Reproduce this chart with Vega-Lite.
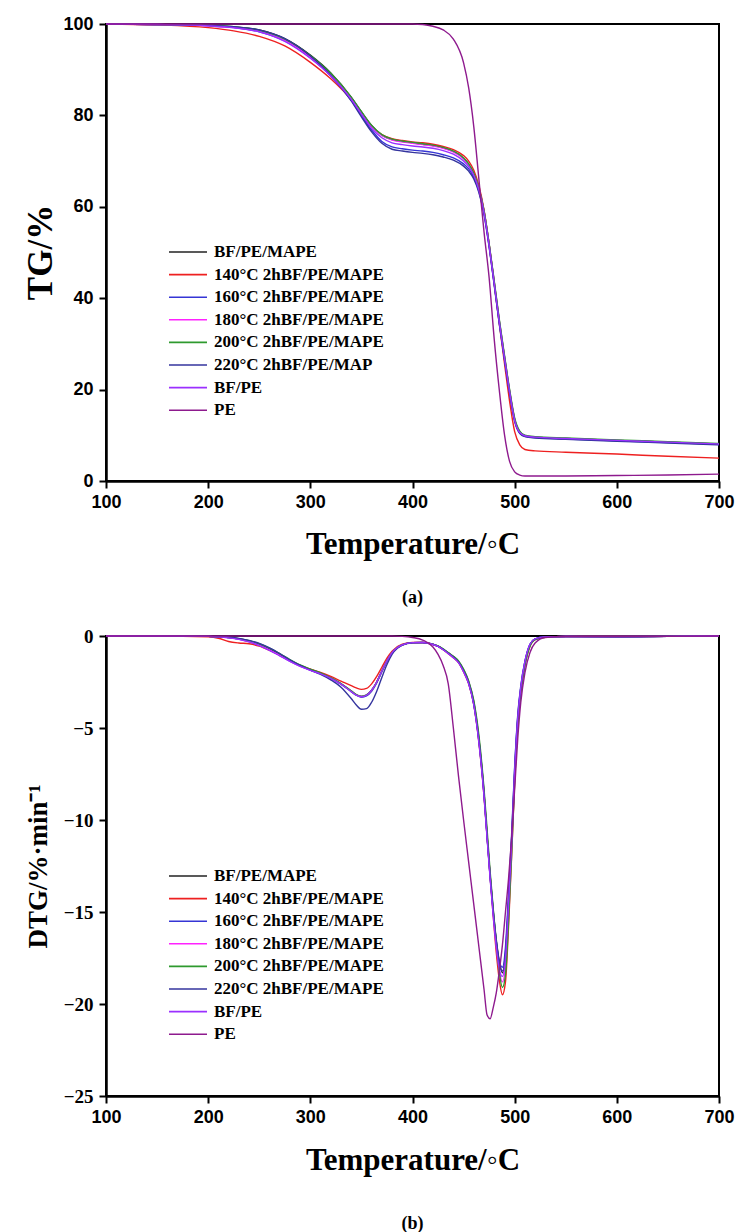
{
  "$schema": "https://vega.github.io/schema/vega-lite/v6.json",
  "background": "white",
  "padding": {"left": 22, "top": 14, "right": 5, "bottom": 0},
  "spacing": 18,
  "config": {
    "view": {"stroke": "black", "strokeWidth": 2},
    "axis": {"grid": false, "labelFlush": false, "domainColor": "black", "domainWidth": 2.5, "tickColor": "black", "tickWidth": 2, "tickSize": 7, "labelColor": "black", "titleColor": "black"},
    "legend": {"orient": "none", "symbolType": "stroke", "symbolSize": 1444, "symbolStrokeWidth": 1.6, "labelFont": "Liberation Serif", "labelFontSize": 17, "labelFontWeight": "bold", "labelColor": "black", "clipHeight": 20, "rowPadding": 2.6, "labelOffset": 6, "padding": 0, "labelLimit": 400, "title": null}
  },
  "datasets": {
    "tg": [
      {"T":100,"BF/PE/MAPE":100,"140°C 2hBF/PE/MAPE":100,"160°C 2hBF/PE/MAPE":100,"180°C 2hBF/PE/MAPE":100,"200°C 2hBF/PE/MAPE":100,"220°C 2hBF/PE/MAP":100,"BF/PE":100,"PE":100},
      {"T":150,"BF/PE/MAPE":99.9,"140°C 2hBF/PE/MAPE":99.8,"160°C 2hBF/PE/MAPE":99.9,"180°C 2hBF/PE/MAPE":99.9,"200°C 2hBF/PE/MAPE":99.9,"220°C 2hBF/PE/MAP":99.9,"BF/PE":99.9,"PE":100},
      {"T":200,"BF/PE/MAPE":99.7,"140°C 2hBF/PE/MAPE":99.2,"160°C 2hBF/PE/MAPE":99.6,"180°C 2hBF/PE/MAPE":99.6,"200°C 2hBF/PE/MAPE":99.7,"220°C 2hBF/PE/MAP":99.7,"BF/PE":99.6,"PE":100},
      {"T":225,"BF/PE/MAPE":99.4,"140°C 2hBF/PE/MAPE":98.5,"160°C 2hBF/PE/MAPE":99.2,"180°C 2hBF/PE/MAPE":99.2,"200°C 2hBF/PE/MAPE":99.4,"220°C 2hBF/PE/MAP":99.4,"BF/PE":99.2,"PE":100},
      {"T":250,"BF/PE/MAPE":98.7,"140°C 2hBF/PE/MAPE":97.3,"160°C 2hBF/PE/MAPE":98.3,"180°C 2hBF/PE/MAPE":98.4,"200°C 2hBF/PE/MAPE":98.6,"220°C 2hBF/PE/MAP":98.7,"BF/PE":98.3,"PE":100},
      {"T":275,"BF/PE/MAPE":96.8,"140°C 2hBF/PE/MAPE":95.2,"160°C 2hBF/PE/MAPE":96.3,"180°C 2hBF/PE/MAPE":96.4,"200°C 2hBF/PE/MAPE":96.7,"220°C 2hBF/PE/MAP":96.8,"BF/PE":96.2,"PE":100},
      {"T":300,"BF/PE/MAPE":93.2,"140°C 2hBF/PE/MAPE":91.6,"160°C 2hBF/PE/MAPE":92.6,"180°C 2hBF/PE/MAPE":92.8,"200°C 2hBF/PE/MAPE":93.1,"220°C 2hBF/PE/MAP":93.0,"BF/PE":92.5,"PE":100},
      {"T":320,"BF/PE/MAPE":89.3,"140°C 2hBF/PE/MAPE":88.0,"160°C 2hBF/PE/MAPE":88.6,"180°C 2hBF/PE/MAPE":88.9,"200°C 2hBF/PE/MAPE":89.2,"220°C 2hBF/PE/MAP":88.8,"BF/PE":88.6,"PE":100},
      {"T":340,"BF/PE/MAPE":84.0,"140°C 2hBF/PE/MAPE":83.4,"160°C 2hBF/PE/MAPE":83.3,"180°C 2hBF/PE/MAPE":83.8,"200°C 2hBF/PE/MAPE":84.0,"220°C 2hBF/PE/MAP":83.2,"BF/PE":83.5,"PE":100},
      {"T":350,"BF/PE/MAPE":80.8,"140°C 2hBF/PE/MAPE":80.4,"160°C 2hBF/PE/MAPE":80.0,"180°C 2hBF/PE/MAPE":80.6,"200°C 2hBF/PE/MAPE":80.8,"220°C 2hBF/PE/MAP":79.7,"BF/PE":80.3,"PE":100},
      {"T":360,"BF/PE/MAPE":77.8,"140°C 2hBF/PE/MAPE":77.6,"160°C 2hBF/PE/MAPE":76.8,"180°C 2hBF/PE/MAPE":77.6,"200°C 2hBF/PE/MAPE":77.8,"220°C 2hBF/PE/MAP":76.4,"BF/PE":77.2,"PE":100},
      {"T":370,"BF/PE/MAPE":75.7,"140°C 2hBF/PE/MAPE":75.8,"160°C 2hBF/PE/MAPE":74.3,"180°C 2hBF/PE/MAPE":75.6,"200°C 2hBF/PE/MAPE":75.8,"220°C 2hBF/PE/MAP":73.9,"BF/PE":75.1,"PE":100},
      {"T":380,"BF/PE/MAPE":74.7,"140°C 2hBF/PE/MAPE":74.9,"160°C 2hBF/PE/MAPE":73.1,"180°C 2hBF/PE/MAPE":74.6,"200°C 2hBF/PE/MAPE":74.8,"220°C 2hBF/PE/MAP":72.6,"BF/PE":74.0,"PE":100},
      {"T":390,"BF/PE/MAPE":74.3,"140°C 2hBF/PE/MAPE":74.5,"160°C 2hBF/PE/MAPE":72.7,"180°C 2hBF/PE/MAPE":74.2,"200°C 2hBF/PE/MAPE":74.4,"220°C 2hBF/PE/MAP":72.2,"BF/PE":73.6,"PE":100},
      {"T":400,"BF/PE/MAPE":74.0,"140°C 2hBF/PE/MAPE":74.2,"160°C 2hBF/PE/MAPE":72.4,"180°C 2hBF/PE/MAPE":73.9,"200°C 2hBF/PE/MAPE":74.1,"220°C 2hBF/PE/MAP":71.9,"BF/PE":73.3,"PE":100},
      {"T":410,"BF/PE/MAPE":73.7,"140°C 2hBF/PE/MAPE":74.0,"160°C 2hBF/PE/MAPE":72.2,"180°C 2hBF/PE/MAPE":73.6,"200°C 2hBF/PE/MAPE":73.8,"220°C 2hBF/PE/MAP":71.7,"BF/PE":73.1,"PE":99.9},
      {"T":420,"BF/PE/MAPE":73.4,"140°C 2hBF/PE/MAPE":73.7,"160°C 2hBF/PE/MAPE":71.9,"180°C 2hBF/PE/MAPE":73.3,"200°C 2hBF/PE/MAPE":73.5,"220°C 2hBF/PE/MAP":71.4,"BF/PE":72.8,"PE":99.5},
      {"T":430,"BF/PE/MAPE":72.9,"140°C 2hBF/PE/MAPE":73.2,"160°C 2hBF/PE/MAPE":71.4,"180°C 2hBF/PE/MAPE":72.8,"200°C 2hBF/PE/MAPE":73.0,"220°C 2hBF/PE/MAP":70.9,"BF/PE":72.3,"PE":98.7},
      {"T":440,"BF/PE/MAPE":72.1,"140°C 2hBF/PE/MAPE":72.5,"160°C 2hBF/PE/MAPE":70.7,"180°C 2hBF/PE/MAPE":72.0,"200°C 2hBF/PE/MAPE":72.2,"220°C 2hBF/PE/MAP":70.2,"BF/PE":71.5,"PE":96.7},
      {"T":450,"BF/PE/MAPE":70.6,"140°C 2hBF/PE/MAPE":71.2,"160°C 2hBF/PE/MAPE":69.4,"180°C 2hBF/PE/MAPE":70.5,"200°C 2hBF/PE/MAPE":70.7,"220°C 2hBF/PE/MAP":68.9,"BF/PE":70.0,"PE":91.5},
      {"T":455,"BF/PE/MAPE":69.3,"140°C 2hBF/PE/MAPE":70.0,"160°C 2hBF/PE/MAPE":68.3,"180°C 2hBF/PE/MAPE":69.2,"200°C 2hBF/PE/MAPE":69.4,"220°C 2hBF/PE/MAP":67.8,"BF/PE":68.8,"PE":86.0},
      {"T":460,"BF/PE/MAPE":67.3,"140°C 2hBF/PE/MAPE":68.0,"160°C 2hBF/PE/MAPE":66.5,"180°C 2hBF/PE/MAPE":67.2,"200°C 2hBF/PE/MAPE":67.4,"220°C 2hBF/PE/MAP":66.1,"BF/PE":66.9,"PE":77.5},
      {"T":465,"BF/PE/MAPE":64.0,"140°C 2hBF/PE/MAPE":64.6,"160°C 2hBF/PE/MAPE":63.4,"180°C 2hBF/PE/MAPE":64.0,"200°C 2hBF/PE/MAPE":64.1,"220°C 2hBF/PE/MAP":63.1,"BF/PE":63.7,"PE":66.0},
      {"T":470,"BF/PE/MAPE":59.0,"140°C 2hBF/PE/MAPE":59.3,"160°C 2hBF/PE/MAPE":58.6,"180°C 2hBF/PE/MAPE":59.0,"200°C 2hBF/PE/MAPE":59.2,"220°C 2hBF/PE/MAP":58.3,"BF/PE":58.7,"PE":54.5},
      {"T":475,"BF/PE/MAPE":51.8,"140°C 2hBF/PE/MAPE":51.8,"160°C 2hBF/PE/MAPE":51.4,"180°C 2hBF/PE/MAPE":51.8,"200°C 2hBF/PE/MAPE":52.0,"220°C 2hBF/PE/MAP":51.2,"BF/PE":51.5,"PE":44.5},
      {"T":480,"BF/PE/MAPE":43.5,"140°C 2hBF/PE/MAPE":43.2,"160°C 2hBF/PE/MAPE":43.0,"180°C 2hBF/PE/MAPE":43.5,"200°C 2hBF/PE/MAPE":43.8,"220°C 2hBF/PE/MAP":42.8,"BF/PE":43.2,"PE":31.0},
      {"T":485,"BF/PE/MAPE":35.0,"140°C 2hBF/PE/MAPE":34.3,"160°C 2hBF/PE/MAPE":34.5,"180°C 2hBF/PE/MAPE":35.0,"200°C 2hBF/PE/MAPE":35.3,"220°C 2hBF/PE/MAP":34.3,"BF/PE":34.7,"PE":19.8},
      {"T":490,"BF/PE/MAPE":27.3,"140°C 2hBF/PE/MAPE":25.8,"160°C 2hBF/PE/MAPE":26.8,"180°C 2hBF/PE/MAPE":27.3,"200°C 2hBF/PE/MAPE":27.6,"220°C 2hBF/PE/MAP":26.6,"BF/PE":27.0,"PE":10.2},
      {"T":495,"BF/PE/MAPE":19.8,"140°C 2hBF/PE/MAPE":17.5,"160°C 2hBF/PE/MAPE":19.4,"180°C 2hBF/PE/MAPE":19.8,"200°C 2hBF/PE/MAPE":20.1,"220°C 2hBF/PE/MAP":19.2,"BF/PE":19.6,"PE":4.3},
      {"T":500,"BF/PE/MAPE":13.5,"140°C 2hBF/PE/MAPE":10.8,"160°C 2hBF/PE/MAPE":13.2,"180°C 2hBF/PE/MAPE":13.5,"200°C 2hBF/PE/MAPE":13.8,"220°C 2hBF/PE/MAP":13.0,"BF/PE":13.3,"PE":2.0},
      {"T":505,"BF/PE/MAPE":10.7,"140°C 2hBF/PE/MAPE":7.9,"160°C 2hBF/PE/MAPE":10.5,"180°C 2hBF/PE/MAPE":10.7,"200°C 2hBF/PE/MAPE":10.9,"220°C 2hBF/PE/MAP":10.4,"BF/PE":10.6,"PE":1.3},
      {"T":510,"BF/PE/MAPE":9.9,"140°C 2hBF/PE/MAPE":6.9,"160°C 2hBF/PE/MAPE":9.8,"180°C 2hBF/PE/MAPE":9.9,"200°C 2hBF/PE/MAPE":10.0,"220°C 2hBF/PE/MAP":9.7,"BF/PE":9.9,"PE":1.1},
      {"T":520,"BF/PE/MAPE":9.6,"140°C 2hBF/PE/MAPE":6.6,"160°C 2hBF/PE/MAPE":9.5,"180°C 2hBF/PE/MAPE":9.6,"200°C 2hBF/PE/MAPE":9.7,"220°C 2hBF/PE/MAP":9.4,"BF/PE":9.6,"PE":1.1},
      {"T":550,"BF/PE/MAPE":9.3,"140°C 2hBF/PE/MAPE":6.3,"160°C 2hBF/PE/MAPE":9.2,"180°C 2hBF/PE/MAPE":9.3,"200°C 2hBF/PE/MAPE":9.4,"220°C 2hBF/PE/MAP":9.1,"BF/PE":9.3,"PE":1.1},
      {"T":600,"BF/PE/MAPE":8.9,"140°C 2hBF/PE/MAPE":5.9,"160°C 2hBF/PE/MAPE":8.8,"180°C 2hBF/PE/MAPE":8.9,"200°C 2hBF/PE/MAPE":9.0,"220°C 2hBF/PE/MAP":8.7,"BF/PE":8.9,"PE":1.2},
      {"T":650,"BF/PE/MAPE":8.5,"140°C 2hBF/PE/MAPE":5.4,"160°C 2hBF/PE/MAPE":8.4,"180°C 2hBF/PE/MAPE":8.5,"200°C 2hBF/PE/MAPE":8.6,"220°C 2hBF/PE/MAP":8.3,"BF/PE":8.5,"PE":1.3},
      {"T":700,"BF/PE/MAPE":8.1,"140°C 2hBF/PE/MAPE":5.0,"160°C 2hBF/PE/MAPE":8.0,"180°C 2hBF/PE/MAPE":8.1,"200°C 2hBF/PE/MAPE":8.2,"220°C 2hBF/PE/MAP":7.9,"BF/PE":8.1,"PE":1.5}
    ],
    "dtg": [
      {"T":100,"BF/PE/MAPE":0,"140°C 2hBF/PE/MAPE":0,"160°C 2hBF/PE/MAPE":0,"180°C 2hBF/PE/MAPE":0,"200°C 2hBF/PE/MAPE":0,"220°C 2hBF/PE/MAPE":0,"BF/PE":0,"PE":0},
      {"T":150,"BF/PE/MAPE":0,"140°C 2hBF/PE/MAPE":0,"160°C 2hBF/PE/MAPE":0,"180°C 2hBF/PE/MAPE":0,"200°C 2hBF/PE/MAPE":0,"220°C 2hBF/PE/MAPE":0,"BF/PE":0,"PE":0},
      {"T":200,"BF/PE/MAPE":-0.02,"140°C 2hBF/PE/MAPE":-0.05,"160°C 2hBF/PE/MAPE":-0.02,"180°C 2hBF/PE/MAPE":-0.02,"200°C 2hBF/PE/MAPE":-0.02,"220°C 2hBF/PE/MAPE":-0.02,"BF/PE":-0.02,"PE":0},
      {"T":210,"BF/PE/MAPE":-0.04,"140°C 2hBF/PE/MAPE":-0.12,"160°C 2hBF/PE/MAPE":-0.04,"180°C 2hBF/PE/MAPE":-0.04,"200°C 2hBF/PE/MAPE":-0.04,"220°C 2hBF/PE/MAPE":-0.04,"BF/PE":-0.05,"PE":0},
      {"T":220,"BF/PE/MAPE":-0.08,"140°C 2hBF/PE/MAPE":-0.3,"160°C 2hBF/PE/MAPE":-0.08,"180°C 2hBF/PE/MAPE":-0.09,"200°C 2hBF/PE/MAPE":-0.08,"220°C 2hBF/PE/MAPE":-0.07,"BF/PE":-0.1,"PE":0},
      {"T":230,"BF/PE/MAPE":-0.15,"140°C 2hBF/PE/MAPE":-0.38,"160°C 2hBF/PE/MAPE":-0.16,"180°C 2hBF/PE/MAPE":-0.17,"200°C 2hBF/PE/MAPE":-0.14,"220°C 2hBF/PE/MAPE":-0.13,"BF/PE":-0.18,"PE":0},
      {"T":240,"BF/PE/MAPE":-0.27,"140°C 2hBF/PE/MAPE":-0.42,"160°C 2hBF/PE/MAPE":-0.3,"180°C 2hBF/PE/MAPE":-0.3,"200°C 2hBF/PE/MAPE":-0.25,"220°C 2hBF/PE/MAPE":-0.24,"BF/PE":-0.32,"PE":0},
      {"T":250,"BF/PE/MAPE":-0.45,"140°C 2hBF/PE/MAPE":-0.55,"160°C 2hBF/PE/MAPE":-0.5,"180°C 2hBF/PE/MAPE":-0.5,"200°C 2hBF/PE/MAPE":-0.42,"220°C 2hBF/PE/MAPE":-0.4,"BF/PE":-0.52,"PE":0},
      {"T":260,"BF/PE/MAPE":-0.7,"140°C 2hBF/PE/MAPE":-0.78,"160°C 2hBF/PE/MAPE":-0.76,"180°C 2hBF/PE/MAPE":-0.75,"200°C 2hBF/PE/MAPE":-0.66,"220°C 2hBF/PE/MAPE":-0.64,"BF/PE":-0.78,"PE":0},
      {"T":270,"BF/PE/MAPE":-1.0,"140°C 2hBF/PE/MAPE":-1.05,"160°C 2hBF/PE/MAPE":-1.05,"180°C 2hBF/PE/MAPE":-1.05,"200°C 2hBF/PE/MAPE":-0.96,"220°C 2hBF/PE/MAPE":-0.95,"BF/PE":-1.08,"PE":0},
      {"T":280,"BF/PE/MAPE":-1.32,"140°C 2hBF/PE/MAPE":-1.33,"160°C 2hBF/PE/MAPE":-1.36,"180°C 2hBF/PE/MAPE":-1.36,"200°C 2hBF/PE/MAPE":-1.28,"220°C 2hBF/PE/MAPE":-1.3,"BF/PE":-1.38,"PE":0},
      {"T":290,"BF/PE/MAPE":-1.6,"140°C 2hBF/PE/MAPE":-1.6,"160°C 2hBF/PE/MAPE":-1.63,"180°C 2hBF/PE/MAPE":-1.63,"200°C 2hBF/PE/MAPE":-1.57,"220°C 2hBF/PE/MAPE":-1.6,"BF/PE":-1.65,"PE":0},
      {"T":300,"BF/PE/MAPE":-1.82,"140°C 2hBF/PE/MAPE":-1.8,"160°C 2hBF/PE/MAPE":-1.85,"180°C 2hBF/PE/MAPE":-1.85,"200°C 2hBF/PE/MAPE":-1.8,"220°C 2hBF/PE/MAPE":-1.85,"BF/PE":-1.87,"PE":0},
      {"T":310,"BF/PE/MAPE":-2.02,"140°C 2hBF/PE/MAPE":-1.98,"160°C 2hBF/PE/MAPE":-2.05,"180°C 2hBF/PE/MAPE":-2.05,"200°C 2hBF/PE/MAPE":-2.0,"220°C 2hBF/PE/MAPE":-2.08,"BF/PE":-2.06,"PE":0},
      {"T":320,"BF/PE/MAPE":-2.28,"140°C 2hBF/PE/MAPE":-2.2,"160°C 2hBF/PE/MAPE":-2.3,"180°C 2hBF/PE/MAPE":-2.3,"200°C 2hBF/PE/MAPE":-2.27,"220°C 2hBF/PE/MAPE":-2.38,"BF/PE":-2.3,"PE":0},
      {"T":330,"BF/PE/MAPE":-2.6,"140°C 2hBF/PE/MAPE":-2.45,"160°C 2hBF/PE/MAPE":-2.62,"180°C 2hBF/PE/MAPE":-2.6,"200°C 2hBF/PE/MAPE":-2.58,"220°C 2hBF/PE/MAPE":-2.78,"BF/PE":-2.62,"PE":0},
      {"T":340,"BF/PE/MAPE":-3.0,"140°C 2hBF/PE/MAPE":-2.7,"160°C 2hBF/PE/MAPE":-3.02,"180°C 2hBF/PE/MAPE":-2.98,"200°C 2hBF/PE/MAPE":-2.98,"220°C 2hBF/PE/MAPE":-3.4,"BF/PE":-3.02,"PE":0},
      {"T":345,"BF/PE/MAPE":-3.2,"140°C 2hBF/PE/MAPE":-2.82,"160°C 2hBF/PE/MAPE":-3.22,"180°C 2hBF/PE/MAPE":-3.18,"200°C 2hBF/PE/MAPE":-3.18,"220°C 2hBF/PE/MAPE":-3.75,"BF/PE":-3.22,"PE":0},
      {"T":350,"BF/PE/MAPE":-3.3,"140°C 2hBF/PE/MAPE":-2.9,"160°C 2hBF/PE/MAPE":-3.32,"180°C 2hBF/PE/MAPE":-3.27,"200°C 2hBF/PE/MAPE":-3.27,"220°C 2hBF/PE/MAPE":-3.98,"BF/PE":-3.3,"PE":0},
      {"T":355,"BF/PE/MAPE":-3.22,"140°C 2hBF/PE/MAPE":-2.85,"160°C 2hBF/PE/MAPE":-3.25,"180°C 2hBF/PE/MAPE":-3.2,"200°C 2hBF/PE/MAPE":-3.2,"220°C 2hBF/PE/MAPE":-3.95,"BF/PE":-3.22,"PE":0},
      {"T":360,"BF/PE/MAPE":-2.95,"140°C 2hBF/PE/MAPE":-2.6,"160°C 2hBF/PE/MAPE":-3.0,"180°C 2hBF/PE/MAPE":-2.95,"200°C 2hBF/PE/MAPE":-2.95,"220°C 2hBF/PE/MAPE":-3.6,"BF/PE":-2.95,"PE":0},
      {"T":365,"BF/PE/MAPE":-2.5,"140°C 2hBF/PE/MAPE":-2.2,"160°C 2hBF/PE/MAPE":-2.55,"180°C 2hBF/PE/MAPE":-2.5,"200°C 2hBF/PE/MAPE":-2.5,"220°C 2hBF/PE/MAPE":-3.0,"BF/PE":-2.5,"PE":0},
      {"T":370,"BF/PE/MAPE":-1.9,"140°C 2hBF/PE/MAPE":-1.7,"160°C 2hBF/PE/MAPE":-1.95,"180°C 2hBF/PE/MAPE":-1.9,"200°C 2hBF/PE/MAPE":-1.9,"220°C 2hBF/PE/MAPE":-2.25,"BF/PE":-1.9,"PE":0},
      {"T":375,"BF/PE/MAPE":-1.35,"140°C 2hBF/PE/MAPE":-1.2,"160°C 2hBF/PE/MAPE":-1.38,"180°C 2hBF/PE/MAPE":-1.35,"200°C 2hBF/PE/MAPE":-1.35,"220°C 2hBF/PE/MAPE":-1.55,"BF/PE":-1.35,"PE":0},
      {"T":380,"BF/PE/MAPE":-0.9,"140°C 2hBF/PE/MAPE":-0.82,"160°C 2hBF/PE/MAPE":-0.92,"180°C 2hBF/PE/MAPE":-0.9,"200°C 2hBF/PE/MAPE":-0.9,"220°C 2hBF/PE/MAPE":-1.0,"BF/PE":-0.9,"PE":0},
      {"T":390,"BF/PE/MAPE":-0.48,"140°C 2hBF/PE/MAPE":-0.45,"160°C 2hBF/PE/MAPE":-0.48,"180°C 2hBF/PE/MAPE":-0.48,"200°C 2hBF/PE/MAPE":-0.48,"220°C 2hBF/PE/MAPE":-0.5,"BF/PE":-0.48,"PE":-0.02},
      {"T":400,"BF/PE/MAPE":-0.36,"140°C 2hBF/PE/MAPE":-0.35,"160°C 2hBF/PE/MAPE":-0.36,"180°C 2hBF/PE/MAPE":-0.36,"200°C 2hBF/PE/MAPE":-0.36,"220°C 2hBF/PE/MAPE":-0.37,"BF/PE":-0.36,"PE":-0.08},
      {"T":410,"BF/PE/MAPE":-0.35,"140°C 2hBF/PE/MAPE":-0.35,"160°C 2hBF/PE/MAPE":-0.35,"180°C 2hBF/PE/MAPE":-0.35,"200°C 2hBF/PE/MAPE":-0.35,"220°C 2hBF/PE/MAPE":-0.36,"BF/PE":-0.35,"PE":-0.22},
      {"T":420,"BF/PE/MAPE":-0.45,"140°C 2hBF/PE/MAPE":-0.46,"160°C 2hBF/PE/MAPE":-0.45,"180°C 2hBF/PE/MAPE":-0.45,"200°C 2hBF/PE/MAPE":-0.44,"220°C 2hBF/PE/MAPE":-0.46,"BF/PE":-0.46,"PE":-0.6},
      {"T":425,"BF/PE/MAPE":-0.55,"140°C 2hBF/PE/MAPE":-0.57,"160°C 2hBF/PE/MAPE":-0.55,"180°C 2hBF/PE/MAPE":-0.55,"200°C 2hBF/PE/MAPE":-0.54,"220°C 2hBF/PE/MAPE":-0.56,"BF/PE":-0.57,"PE":-1.0},
      {"T":430,"BF/PE/MAPE":-0.72,"140°C 2hBF/PE/MAPE":-0.75,"160°C 2hBF/PE/MAPE":-0.72,"180°C 2hBF/PE/MAPE":-0.72,"200°C 2hBF/PE/MAPE":-0.7,"220°C 2hBF/PE/MAPE":-0.73,"BF/PE":-0.75,"PE":-1.6},
      {"T":435,"BF/PE/MAPE":-0.92,"140°C 2hBF/PE/MAPE":-0.96,"160°C 2hBF/PE/MAPE":-0.92,"180°C 2hBF/PE/MAPE":-0.92,"200°C 2hBF/PE/MAPE":-0.9,"220°C 2hBF/PE/MAPE":-0.94,"BF/PE":-0.96,"PE":-2.6},
      {"T":440,"BF/PE/MAPE":-1.12,"140°C 2hBF/PE/MAPE":-1.18,"160°C 2hBF/PE/MAPE":-1.13,"180°C 2hBF/PE/MAPE":-1.12,"200°C 2hBF/PE/MAPE":-1.1,"220°C 2hBF/PE/MAPE":-1.15,"BF/PE":-1.18,"PE":-5.0},
      {"T":445,"BF/PE/MAPE":-1.38,"140°C 2hBF/PE/MAPE":-1.45,"160°C 2hBF/PE/MAPE":-1.4,"180°C 2hBF/PE/MAPE":-1.38,"200°C 2hBF/PE/MAPE":-1.35,"220°C 2hBF/PE/MAPE":-1.42,"BF/PE":-1.45,"PE":-7.6},
      {"T":450,"BF/PE/MAPE":-1.85,"140°C 2hBF/PE/MAPE":-1.95,"160°C 2hBF/PE/MAPE":-1.88,"180°C 2hBF/PE/MAPE":-1.85,"200°C 2hBF/PE/MAPE":-1.8,"220°C 2hBF/PE/MAPE":-1.9,"BF/PE":-1.95,"PE":-10.0},
      {"T":455,"BF/PE/MAPE":-2.5,"140°C 2hBF/PE/MAPE":-2.6,"160°C 2hBF/PE/MAPE":-2.55,"180°C 2hBF/PE/MAPE":-2.5,"200°C 2hBF/PE/MAPE":-2.45,"220°C 2hBF/PE/MAPE":-2.55,"BF/PE":-2.6,"PE":-12.3},
      {"T":460,"BF/PE/MAPE":-3.6,"140°C 2hBF/PE/MAPE":-3.75,"160°C 2hBF/PE/MAPE":-3.7,"180°C 2hBF/PE/MAPE":-3.6,"200°C 2hBF/PE/MAPE":-3.5,"220°C 2hBF/PE/MAPE":-3.7,"BF/PE":-3.75,"PE":-14.6},
      {"T":465,"BF/PE/MAPE":-5.6,"140°C 2hBF/PE/MAPE":-5.8,"160°C 2hBF/PE/MAPE":-5.7,"180°C 2hBF/PE/MAPE":-5.6,"200°C 2hBF/PE/MAPE":-5.4,"220°C 2hBF/PE/MAPE":-5.7,"BF/PE":-5.8,"PE":-16.9},
      {"T":470,"BF/PE/MAPE":-8.5,"140°C 2hBF/PE/MAPE":-8.7,"160°C 2hBF/PE/MAPE":-8.6,"180°C 2hBF/PE/MAPE":-8.5,"200°C 2hBF/PE/MAPE":-8.3,"220°C 2hBF/PE/MAPE":-8.6,"BF/PE":-8.7,"PE":-19.2},
      {"T":473,"BF/PE/MAPE":-10.8,"140°C 2hBF/PE/MAPE":-10.9,"160°C 2hBF/PE/MAPE":-10.9,"180°C 2hBF/PE/MAPE":-10.8,"200°C 2hBF/PE/MAPE":-10.5,"220°C 2hBF/PE/MAPE":-10.9,"BF/PE":-11.0,"PE":-20.6},
      {"T":476,"BF/PE/MAPE":-13.0,"140°C 2hBF/PE/MAPE":-13.1,"160°C 2hBF/PE/MAPE":-13.1,"180°C 2hBF/PE/MAPE":-13.0,"200°C 2hBF/PE/MAPE":-12.8,"220°C 2hBF/PE/MAPE":-13.1,"BF/PE":-13.2,"PE":-20.8},
      {"T":479,"BF/PE/MAPE":-14.9,"140°C 2hBF/PE/MAPE":-15.2,"160°C 2hBF/PE/MAPE":-15.0,"180°C 2hBF/PE/MAPE":-15.0,"200°C 2hBF/PE/MAPE":-14.8,"220°C 2hBF/PE/MAPE":-15.0,"BF/PE":-15.2,"PE":-20.2},
      {"T":482,"BF/PE/MAPE":-16.5,"140°C 2hBF/PE/MAPE":-17.2,"160°C 2hBF/PE/MAPE":-16.6,"180°C 2hBF/PE/MAPE":-16.8,"200°C 2hBF/PE/MAPE":-16.7,"220°C 2hBF/PE/MAPE":-16.6,"BF/PE":-16.9,"PE":-19.4},
      {"T":485,"BF/PE/MAPE":-17.7,"140°C 2hBF/PE/MAPE":-18.7,"160°C 2hBF/PE/MAPE":-17.7,"180°C 2hBF/PE/MAPE":-18.2,"200°C 2hBF/PE/MAPE":-18.3,"220°C 2hBF/PE/MAPE":-17.8,"BF/PE":-18.1,"PE":-18.2},
      {"T":488,"BF/PE/MAPE":-18.3,"140°C 2hBF/PE/MAPE":-19.5,"160°C 2hBF/PE/MAPE":-18.0,"180°C 2hBF/PE/MAPE":-18.8,"200°C 2hBF/PE/MAPE":-19.1,"220°C 2hBF/PE/MAPE":-18.2,"BF/PE":-18.5,"PE":-16.8},
      {"T":491,"BF/PE/MAPE":-17.4,"140°C 2hBF/PE/MAPE":-18.8,"160°C 2hBF/PE/MAPE":-16.9,"180°C 2hBF/PE/MAPE":-17.9,"200°C 2hBF/PE/MAPE":-18.4,"220°C 2hBF/PE/MAPE":-17.2,"BF/PE":-17.5,"PE":-15.0},
      {"T":494,"BF/PE/MAPE":-14.6,"140°C 2hBF/PE/MAPE":-15.8,"160°C 2hBF/PE/MAPE":-14.0,"180°C 2hBF/PE/MAPE":-15.0,"200°C 2hBF/PE/MAPE":-15.5,"220°C 2hBF/PE/MAPE":-14.3,"BF/PE":-14.6,"PE":-13.2},
      {"T":497,"BF/PE/MAPE":-11.3,"140°C 2hBF/PE/MAPE":-12.0,"160°C 2hBF/PE/MAPE":-10.8,"180°C 2hBF/PE/MAPE":-11.5,"200°C 2hBF/PE/MAPE":-11.9,"220°C 2hBF/PE/MAPE":-11.0,"BF/PE":-11.3,"PE":-11.0},
      {"T":500,"BF/PE/MAPE":-7.5,"140°C 2hBF/PE/MAPE":-7.9,"160°C 2hBF/PE/MAPE":-7.1,"180°C 2hBF/PE/MAPE":-7.6,"200°C 2hBF/PE/MAPE":-7.9,"220°C 2hBF/PE/MAPE":-7.2,"BF/PE":-7.4,"PE":-8.3},
      {"T":503,"BF/PE/MAPE":-4.6,"140°C 2hBF/PE/MAPE":-4.9,"160°C 2hBF/PE/MAPE":-4.3,"180°C 2hBF/PE/MAPE":-4.7,"200°C 2hBF/PE/MAPE":-4.9,"220°C 2hBF/PE/MAPE":-4.4,"BF/PE":-4.5,"PE":-5.6},
      {"T":506,"BF/PE/MAPE":-2.9,"140°C 2hBF/PE/MAPE":-3.1,"160°C 2hBF/PE/MAPE":-2.7,"180°C 2hBF/PE/MAPE":-2.9,"200°C 2hBF/PE/MAPE":-3.1,"220°C 2hBF/PE/MAPE":-2.8,"BF/PE":-2.8,"PE":-3.6},
      {"T":510,"BF/PE/MAPE":-1.5,"140°C 2hBF/PE/MAPE":-1.6,"160°C 2hBF/PE/MAPE":-1.4,"180°C 2hBF/PE/MAPE":-1.5,"200°C 2hBF/PE/MAPE":-1.6,"220°C 2hBF/PE/MAPE":-1.4,"BF/PE":-1.4,"PE":-2.0},
      {"T":515,"BF/PE/MAPE":-0.5,"140°C 2hBF/PE/MAPE":-0.55,"160°C 2hBF/PE/MAPE":-0.45,"180°C 2hBF/PE/MAPE":-0.5,"200°C 2hBF/PE/MAPE":-0.55,"220°C 2hBF/PE/MAPE":-0.45,"BF/PE":-0.45,"PE":-0.9},
      {"T":520,"BF/PE/MAPE":-0.18,"140°C 2hBF/PE/MAPE":-0.2,"160°C 2hBF/PE/MAPE":-0.16,"180°C 2hBF/PE/MAPE":-0.18,"200°C 2hBF/PE/MAPE":-0.2,"220°C 2hBF/PE/MAPE":-0.16,"BF/PE":-0.16,"PE":-0.38},
      {"T":530,"BF/PE/MAPE":-0.06,"140°C 2hBF/PE/MAPE":-0.07,"160°C 2hBF/PE/MAPE":-0.05,"180°C 2hBF/PE/MAPE":-0.06,"200°C 2hBF/PE/MAPE":-0.07,"220°C 2hBF/PE/MAPE":-0.05,"BF/PE":-0.05,"PE":-0.08},
      {"T":550,"BF/PE/MAPE":-0.03,"140°C 2hBF/PE/MAPE":-0.03,"160°C 2hBF/PE/MAPE":-0.03,"180°C 2hBF/PE/MAPE":-0.03,"200°C 2hBF/PE/MAPE":-0.03,"220°C 2hBF/PE/MAPE":-0.03,"BF/PE":-0.03,"PE":-0.02},
      {"T":600,"BF/PE/MAPE":-0.04,"140°C 2hBF/PE/MAPE":-0.03,"160°C 2hBF/PE/MAPE":-0.05,"180°C 2hBF/PE/MAPE":-0.03,"200°C 2hBF/PE/MAPE":-0.03,"220°C 2hBF/PE/MAPE":-0.04,"BF/PE":-0.03,"PE":-0.02},
      {"T":650,"BF/PE/MAPE":-0.02,"140°C 2hBF/PE/MAPE":-0.02,"160°C 2hBF/PE/MAPE":-0.02,"180°C 2hBF/PE/MAPE":-0.02,"200°C 2hBF/PE/MAPE":-0.02,"220°C 2hBF/PE/MAPE":-0.02,"BF/PE":-0.02,"PE":-0.02},
      {"T":700,"BF/PE/MAPE":0,"140°C 2hBF/PE/MAPE":0,"160°C 2hBF/PE/MAPE":0,"180°C 2hBF/PE/MAPE":0,"200°C 2hBF/PE/MAPE":0,"220°C 2hBF/PE/MAPE":0,"BF/PE":0,"PE":0}
    ]
  },
  "vconcat": [
    {
      "width": 613,
      "height": 457,
      "data": {"name": "tg"},
      "transform": [{"fold": ["BF/PE/MAPE", "140°C 2hBF/PE/MAPE", "160°C 2hBF/PE/MAPE", "180°C 2hBF/PE/MAPE", "200°C 2hBF/PE/MAPE", "220°C 2hBF/PE/MAP", "BF/PE", "PE"], "as": ["series", "v"]}],
      "title": {"text": "(a)", "orient": "bottom", "anchor": "middle", "font": "Liberation Serif", "fontSize": 18, "fontWeight": "bold", "color": "black", "offset": 30},
      "mark": {"type": "line", "strokeWidth": 1.4, "interpolate": "monotone"},
      "encoding": {
        "x": {"field": "T", "type": "quantitative", "scale": {"domain": [100, 700], "nice": false},
              "axis": {"values": [100, 200, 300, 400, 500, 600, 700], "title": "Temperature/◦C", "labelFont": "Liberation Sans", "labelFontSize": 18, "labelFontWeight": "bold", "labelPadding": 5, "titleFont": "Liberation Serif", "titleFontSize": 31, "titleFontWeight": "bold", "titleY": 63, "titleBaseline": "middle"}},
        "y": {"field": "v", "type": "quantitative", "scale": {"domain": [0, 100], "nice": false},
              "axis": {"values": [0, 20, 40, 60, 80, 100], "title": "TG/%", "labelFont": "Liberation Sans", "labelFontSize": 18, "labelFontWeight": "bold", "labelPadding": 6, "titleFont": "Liberation Serif", "titleFontSize": 35, "titleFontWeight": "bold", "titleX": -55, "titleY": 228, "titleBaseline": "alphabetic", "titleAngle": -90}},
        "color": {"field": "series", "type": "nominal",
                  "scale": {"domain": ["BF/PE/MAPE", "140°C 2hBF/PE/MAPE", "160°C 2hBF/PE/MAPE", "180°C 2hBF/PE/MAPE", "200°C 2hBF/PE/MAPE", "220°C 2hBF/PE/MAP", "BF/PE", "PE"],
                            "range": ["#222222", "#ee2020", "#3535d5", "#ff22ff", "#2e9a2e", "#34349e", "#9b30ff", "#8e1a8e"]},
                  "legend": {"legendX": 62, "legendY": 218}}
      }
    },
    {
      "width": 613,
      "height": 460,
      "data": {"name": "dtg"},
      "transform": [{"fold": ["BF/PE/MAPE", "140°C 2hBF/PE/MAPE", "160°C 2hBF/PE/MAPE", "180°C 2hBF/PE/MAPE", "200°C 2hBF/PE/MAPE", "220°C 2hBF/PE/MAPE", "BF/PE", "PE"], "as": ["series", "v"]}],
      "title": {"text": "(b)", "orient": "bottom", "anchor": "middle", "font": "Liberation Serif", "fontSize": 18, "fontWeight": "bold", "color": "black", "offset": 40},
      "mark": {"type": "line", "strokeWidth": 1.4, "interpolate": "monotone"},
      "encoding": {
        "x": {"field": "T", "type": "quantitative", "scale": {"domain": [100, 700], "nice": false},
              "axis": {"values": [100, 200, 300, 400, 500, 600, 700], "title": "Temperature/◦C", "labelFont": "Liberation Sans", "labelFontSize": 18, "labelFontWeight": "bold", "labelPadding": 5, "titleFont": "Liberation Serif", "titleFontSize": 31, "titleFontWeight": "bold", "titleY": 64, "titleBaseline": "middle"}},
        "y": {"field": "v", "type": "quantitative", "scale": {"domain": [-25, 0], "nice": false},
              "axis": {"values": [-25, -20, -15, -10, -5, 0], "title": "DTG/%·min⁻¹", "labelFont": "Liberation Serif", "labelFontSize": 19, "labelFontWeight": "bold", "labelPadding": 6, "titleFont": "Liberation Serif", "titleFontSize": 27, "titleFontWeight": "bold", "titleX": -60, "titleY": 230, "titleBaseline": "alphabetic", "titleAngle": -90}},
        "color": {"field": "series", "type": "nominal",
                  "scale": {"domain": ["BF/PE/MAPE", "140°C 2hBF/PE/MAPE", "160°C 2hBF/PE/MAPE", "180°C 2hBF/PE/MAPE", "200°C 2hBF/PE/MAPE", "220°C 2hBF/PE/MAPE", "BF/PE", "PE"],
                            "range": ["#222222", "#ee2020", "#3535d5", "#ff22ff", "#2e9a2e", "#34349e", "#9b30ff", "#8e1a8e"]},
                  "legend": {"legendX": 62, "legendY": 230}}
      }
    }
  ],
  "resolve": {"scale": {"color": "independent"}, "legend": {"color": "independent"}}
}
